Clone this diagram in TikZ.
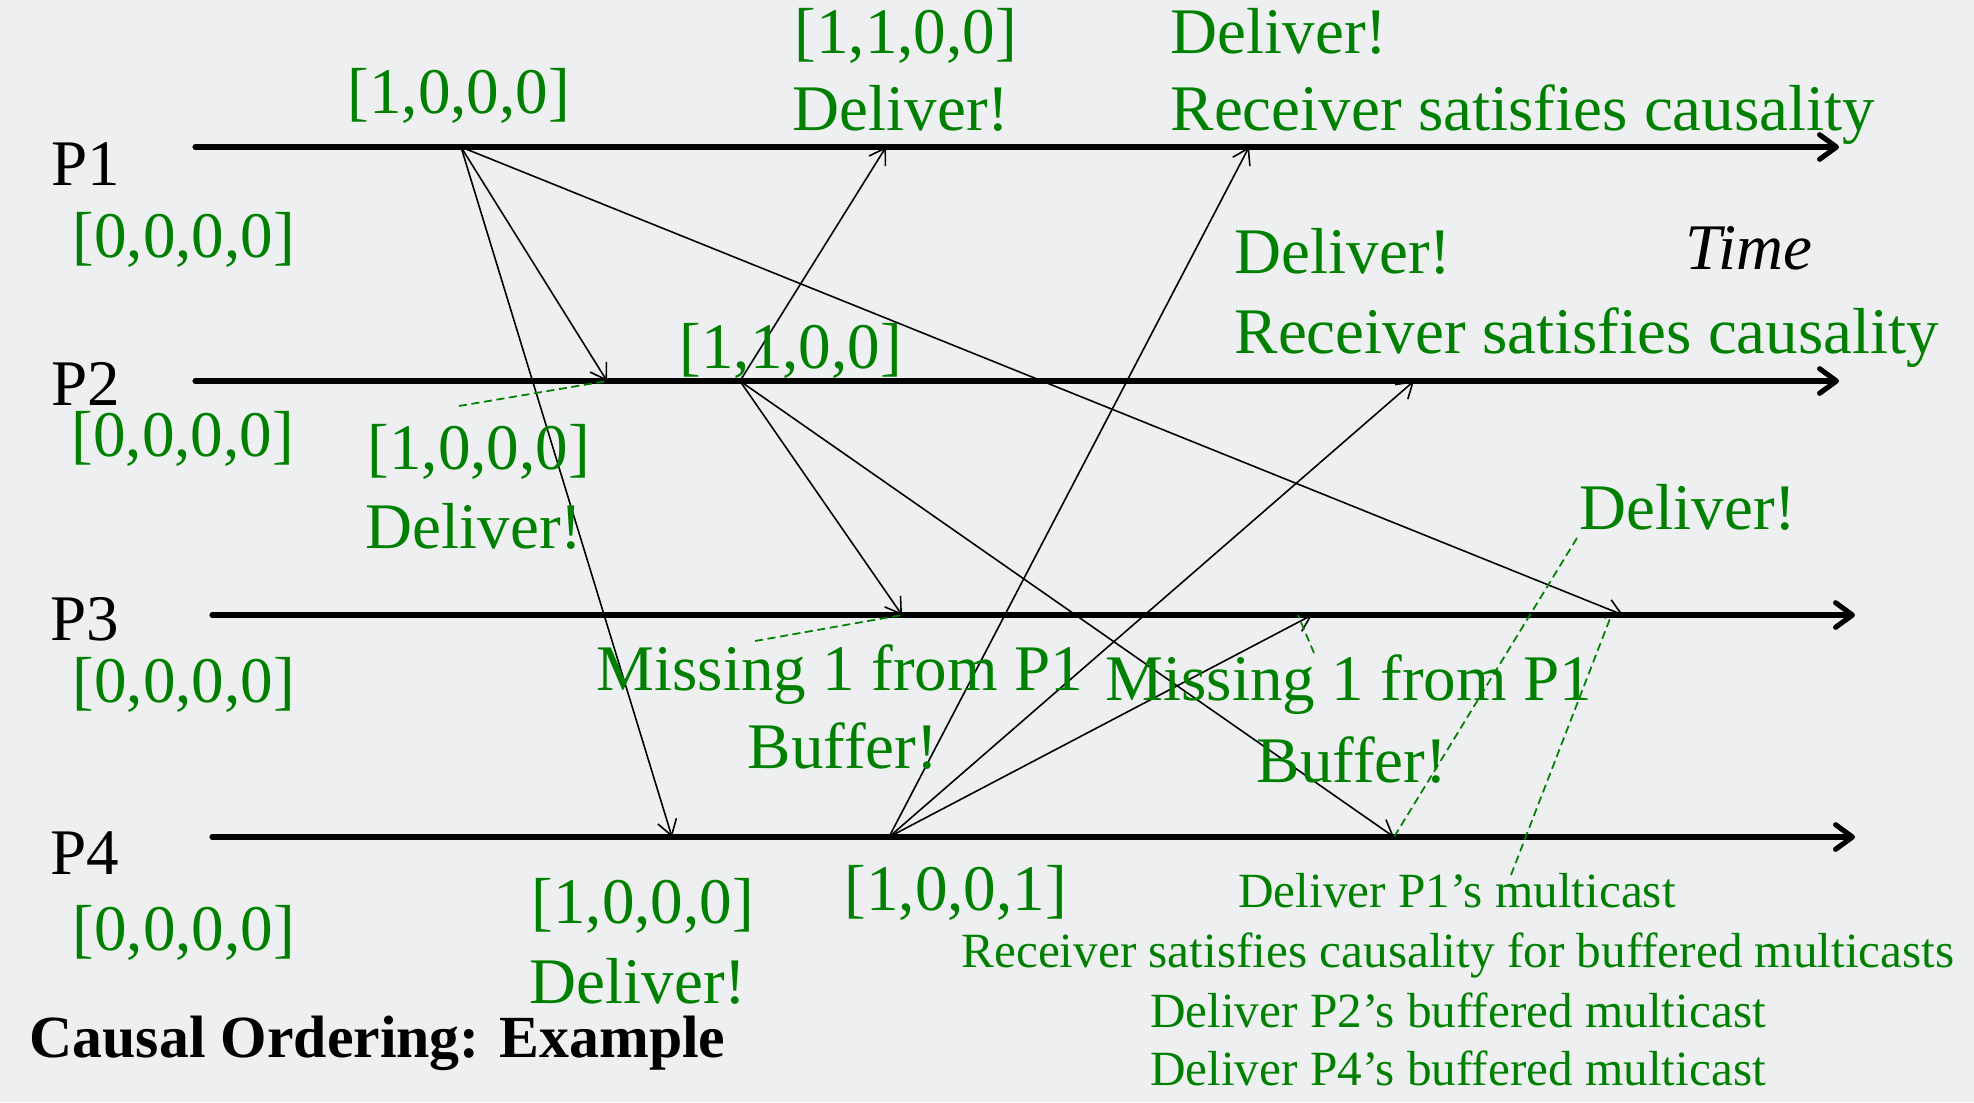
\documentclass[tikz,border=0pt]{standalone}
\usepackage{fontspec}
\setmainfont{Liberation Serif}
\usetikzlibrary{arrows.meta}
\definecolor{vcgreen}{RGB}{0,128,0}
\definecolor{slidebg}{RGB}{238,239,241}

\begin{document}
\begin{tikzpicture}
    [x=0.01cm,y=-0.01cm,
     every node/.style={inner sep=0pt, anchor=base west, font=\fontsize{18.5}{22}\selectfont},
     vc/.style={text=vcgreen},
     note/.style={text=vcgreen, anchor=base, font=\fontsize{14}{17}\selectfont},
     timeline/.style={line width=1.45pt, line cap=round, -{Straight Barb[length=4.8pt,width=7pt,round]}},
     msg/.style={line width=0.45pt, -{Straight Barb[length=4.3pt,width=5.5pt]}},
     leader/.style={draw=vcgreen, line width=0.5pt, dash pattern=on 2.3pt off 1.3pt}]
  \fill[slidebg] (0,0) rectangle (1974,1102);

  % process lines
  \coordinate (t1) at (195,147);  \coordinate (e1) at (1839,147);
  \coordinate (t2) at (195,381);  \coordinate (e2) at (1839,381);
  \coordinate (t3) at (212,615);  \coordinate (e3) at (1855,615);
  \coordinate (t4) at (212,837);  \coordinate (e4) at (1855,837);
  \foreach \p in {1,...,4}
    \draw[timeline] (t\p) -- (e\p);

  \node (lp1) at (51,185) {P1};
  \node (lp2) at (51,405) {P2};
  \node (lp3) at (50,640) {P3};
  \node (lp4) at (50,874) {P4};
  \node[vc] (v1) at (72,257) {[0,0,0,0]};
  \node[vc] (v2) at (71,456) {[0,0,0,0]};
  \node[vc] (v3) at (72,702) {[0,0,0,0]};
  \node[vc] (v4) at (72,950) {[0,0,0,0]};
  \node[font=\fontsize{18.5}{22}\selectfont\itshape] (time) at (1685,269) {Time};

  % send and receive events
  \coordinate (s1) at (461,147);
  \coordinate (s2) at (740,381);
  \coordinate (s4) at (889,837);
  \coordinate (r12) at (607,381);
  \coordinate (r14) at (672,837);
  \coordinate (r13) at (1623,615);
  \coordinate (r21) at (886,147);
  \coordinate (r23) at (902,615);
  \coordinate (r24) at (1394,837);
  \coordinate (r41) at (1249,147);
  \coordinate (r42) at (1414,381);
  \coordinate (r43) at (1312,615);

  \foreach \from/\to in {s1/r12, s1/r14, s1/r13, s2/r21, s2/r23, s2/r24, s4/r41, s4/r42, s4/r43}
    \draw[msg] (\from) -- (\to);

  % timestamps and outcomes
  \node[vc] (vs1) at (347,113) {[1,0,0,0]};
  \node[vc] (vs2) at (679,368) {[1,1,0,0]};
  \node[vc] (vs4) at (844,910) {[1,0,0,1]};
  \node[vc] (vr12) at (367,469) {[1,0,0,0]};
  \node[vc] (d12) at (365,548) {Deliver!};
  \node[vc] (vr21) at (794,53) {[1,1,0,0]};
  \node[vc] (d21) at (792,130) {Deliver!};
  \node[vc] (vr14) at (531,923) {[1,0,0,0]};
  \node[vc] (d14) at (529,1003) {Deliver!};
  \node[vc] (d41) at (1170,53) {Deliver!};
  \node[vc] (c41) at (1170,130) {Receiver satisfies causality};
  \node[vc] (d42) at (1234,273) {Deliver!};
  \node[vc] (c42) at (1234,353) {Receiver satisfies causality};
  \node[vc] (m23) at (596,690) {Missing 1 from P1};
  \node[vc] (b23) at (747,768) {Buffer!};
  \node[vc] (m43) at (1105,700) {Missing 1 from P1};
  \node[vc] (b43) at (1256,782) {Buffer!};
  \node[vc] (d24) at (1579,529) {Deliver!};
  \node[note] (n1) at (1457,907) {Deliver P1’s multicast};
  \node[note] (n2) at (1458,967) {Receiver satisfies causality for buffered multicasts};
  \node[note] (n3) at (1458,1027) {Deliver P2’s buffered multicast};
  \node[note] (n4) at (1458,1085) {Deliver P4’s buffered multicast};

  % dashed pointers
  \coordinate (l12) at (459,406);
  \coordinate (l23) at (755,641);
  \coordinate (l43) at (1314,653);  \coordinate (k43) at (1298,615);
  \coordinate (l24) at (1577,538);
  \coordinate (l13) at (1511,875);  \coordinate (k13) at (1611,616);
  \foreach \from/\to in {l12/r12, l23/r23, l43/k43, l24/r24, l13/k13}
    \draw[leader] (\from) -- (\to);

  \node[font=\fontsize{17}{20}\selectfont\bfseries] (title) at (29,1057) {Causal Ordering: Example};
\end{tikzpicture}
\end{document}
